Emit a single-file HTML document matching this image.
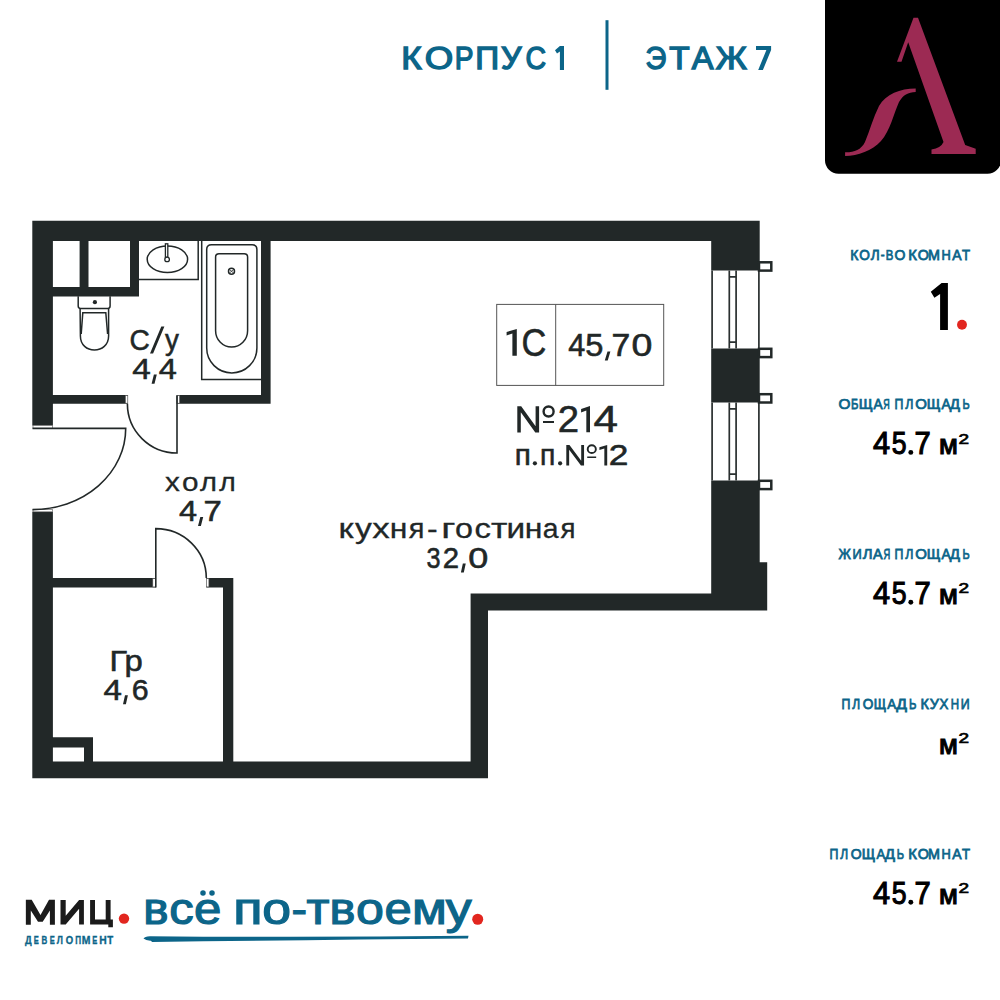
<!DOCTYPE html>
<html><head><meta charset="utf-8">
<style>
html,body{margin:0;padding:0;background:#fff;width:1000px;height:1000px;overflow:hidden}
svg{display:block}
text{font-family:"Liberation Sans",sans-serif}
.t{fill:#0c6589;font-weight:bold}
.b{fill:#111;font-weight:bold}
.l{fill:#1c2121}
</style></head><body>
<svg width="1000" height="1000" viewBox="0 0 1000 1000">
<defs><clipPath id="cvse"><rect x="130" y="870" width="350" height="64.8"/></clipPath></defs>
<!-- header -->
<rect x="605.5" y="20.2" width="3" height="69.6" fill="#0c6589"/>
<path fill="#0c6589" d="M559.9,69.9 V51.6 L557,53.6 L555,50.2 L559.9,46.1 H564 V69.9 Z M756,46.1 H771.1 V49.9 L762.9,69.9 H758.2 L766.4,49.9 H756 Z"/>

<!-- logo box -->
<path d="M825,0 H1001 V160.2 A13.5,13.5 0 0 1 987.5,173.7 H838.5 A13.5,13.5 0 0 1 825,160.2 Z" fill="#000"/>
<path fill="#9c2a53" d="M913.5,17.8 L918,17.8 L965.2,145 L975.7,148.7 L975.7,154 L931.5,154 L931.5,149.5 Q941,148 943.5,142 L908.2,42.2 L901.5,61.75 L897,61.75 Z"/>
<path fill="#9c2a53" d="M915.7,88.5 C900,88.6 886,94 879,106 C873,118 870,130 865,142 C861,150 854,152.5 845.1,152.3 L845.1,156.1 C858,155.5 872,151 881,141 C890,131 894,113 899,102 C903,95 908,92 915.7,91.9 Z"/>

<!-- right info -->
<path fill="#000" d="M940.1,329.9 V293.9 L934.4,297.8 L930.8,291.8 L941.6,283 H947.9 V329.9 Z"/>
<circle cx="962" cy="324.8" r="4.95" fill="#e2261f"/>
<circle cx="910.8" cy="452.4" r="2.45" fill="#000"/><circle cx="910.8" cy="602.3" r="2.45" fill="#000"/><circle cx="910.8" cy="902.3" r="2.45" fill="#000"/>





<!-- bottom logo -->
<path fill="#1b1b1b" d="M25.85,899.7 H31.7 L40.5,915 L49,899.7 H54.9 V924.7 H49.9 V910.5 L42.7,921.8 H38 L30.8,910.5 V924.7 H25.85 Z M60.5,899.9 H65.7 V915.8 L79.1,899.9 H83.9 V924.6 H79.1 V908.7 L65.7,924.6 H60.5 Z M90.1,899.9 H95 V919.4 H105.7 V899.9 H110.6 V919.4 H112.9 V927.2 H108.3 V924.6 H90.1 Z"/>
<circle cx="124" cy="918.6" r="5.2" fill="#e2261f"/>
<circle cx="477.7" cy="919.25" r="5.5" fill="#e2261f"/>
<circle cx="203" cy="892.9" r="2.75" fill="#0c6589"/><circle cx="212" cy="892.9" r="2.75" fill="#0c6589"/>
<path fill="#0c6589" d="M143.5,938.6 Q144.5,936.4 150,936.2 Q310,937.6 468.5,935.8 L468,938.6 Q300,940.2 152,942 L151,940.7 Q146,940.9 143.5,938.6 Z"/>

<!-- floor plan walls -->
<path fill="#222828" d="M32.3,220.8h727.4v20.1h-727.4zM32.3,220.8h20.6v204.7h-20.6zM32.3,511.8h20.6v266.5h-20.6zM711.2,220.8h48.5v49.8h-48.5zM711.2,348.5h48.5v54h-48.5zM711.2,480.5h48.5v129.9h-48.5zM759,562.2h8.2v48.2h-8.2zM470.6,593.5h296.6v17.1h-296.6zM470.6,593.5h17.4v184.8h-17.4zM32.3,761.5h455.7v16.8h-455.7zM79.6,240h8.9v50h-8.9zM130,240h9v56.6h-9zM52,287h87v9.6h-87zM261,240h9.6v163.8h-9.6zM52,395h75.8v8.8h-75.8zM176.6,395h94v8.8h-94zM52,578h103.8v9.5h-103.8zM206.3,578h27v9.5h-27zM223,578h10.3v184h-10.3zM52,737.3h41v10.3h-41zM84,737.3h9v25h-9z"/>

<!-- jamb markers -->
<g fill="#fff" stroke="#555" stroke-width="0.6">
  <rect x="125.4" y="395.6" width="2.4" height="7.6"/>
  <rect x="177.2" y="395.6" width="2.4" height="7.6"/>
  <rect x="152.8" y="578.6" width="2.6" height="8.3"/>
  <rect x="206.3" y="578.6" width="2.6" height="8.3"/>
  <rect x="33" y="425.5" width="19.3" height="2.9"/>
  <rect x="33" y="509.3" width="19.3" height="2.5"/>
</g>

<!-- windows -->
<g fill="none" stroke="#2a3030" stroke-width="1.7">
  <path d="M712.1,270.6 V348.5 M729.3,270.6 V348.5 M736.1,270.6 V348.5 M758.9,270.6 V348.5 M712.1,402.5 V480.5 M729.3,402.5 V480.5 M736.1,402.5 V480.5 M758.9,402.5 V480.5"/>
  <path d="M729.3,276.9 H736.1 M729.3,342.2 H736.1 M729.3,408.8 H736.1 M729.3,474.2 H736.1"/>
</g>
<g fill="#fff" stroke="#222828" stroke-width="2.5">
  <rect x="759" y="262.3" width="12.3" height="8.3"/>
  <rect x="759" y="348.8" width="12.3" height="8.3"/>
  <rect x="759" y="394.2" width="12.3" height="8.3"/>
  <rect x="759" y="480.8" width="12.3" height="8.3"/>
</g>

<!-- doors -->
<g fill="none" stroke="#222828" stroke-width="1.6">
  <path d="M32.5,428.4 L125.7,428.4 A93.2,81.2 0 0 1 32.5,509.6"/>
  <path d="M177,395.5 L177,453 A49.6,49.2 0 0 1 127.4,403.8"/>
  <path d="M155.8,587.5 L155.8,528.6 A50.5,49.4 0 0 1 206.3,578"/>
</g>

<!-- sanitary -->
<g fill="none" stroke="#222828" stroke-width="1.5">
  <path d="M139,279.6 H198.2 V240.5"/>
  <ellipse cx="167.4" cy="259.3" rx="20.2" ry="13.3"/>
  <path d="M201.7,240.5 V379.6 H261"/>
  <path d="M206.7,249.5 Q206.7,244.7 211.5,244.7 H252.1 Q256.9,244.7 256.9,249.5 V348.1 A25.1,24.8 0 0 1 206.7,348.1 Z"/>
  <path d="M215.6,257 Q215.6,253.7 218.9,253.7 H244.3 Q247.6,253.7 247.6,257 V330.7 A16,16.4 0 0 1 215.6,330.7 Z"/>
  <circle cx="231.5" cy="271.2" r="3"/>
  <path d="M78.2,296.3 V306 Q78.2,308.4 80.5,308.4 H107.8 Q110.1,308.4 110.1,306 V296.3"/>
  <path d="M80.1,308.4 L80.4,336 C80.4,345 87,350 94.4,350 C101.8,350 108.6,345 108.6,336 L108.6,308.4"/>
  <path d="M81.2,334 L82.8,312.8 H105.8 L107.6,334"/>
</g>
<circle cx="94.9" cy="302.2" r="2.1" fill="#222828"/>
<path d="M229.5,269.5 L233.5,273 M233.5,269.5 L229.5,273" stroke="#222828" stroke-width="0.8"/>
<rect x="165.4" y="243.8" width="2.4" height="13.5" fill="#fff" stroke="#222828" stroke-width="1.3"/>
<circle cx="167.1" cy="259.4" r="2.3" fill="#fff" stroke="#222828" stroke-width="1.3"/>

<!-- info box -->
<g fill="none" stroke="#555" stroke-width="1">
  <rect x="496.7" y="304.4" width="167" height="81"/>
  <line x1="555.7" y1="304.4" x2="555.7" y2="385.4"/>
</g>

<!-- labels -->

<path fill="#212727" d="M512.39,355.7 V333.49 L506.6,335.51 V332.04 L516.8,329 V355.7 Z M586.33,432.3 V410.5 L581.1,412.49 V409.09 L590,406.1 V432.3 Z M604.34,465.4 V448.43 L599.4,449.98 V447.33 L607.2,445 V465.4 Z"/>
<path fill="#212727" d="M153.9,374.6 H156.8 L154.5,383.7 H151.6 Z M200.3,517.0 H203.2 L200.9,526.1 H198 Z M125.0,695.2 H127.9 L125.9,704.3 H123 Z M462.85,563.5 H465.75 L463.8,572.6 H460.9 Z M607.5,351.4 H610.4 L607.7,360.5 H604.8 Z M161.3,326.4 H164.4 L153.1,353.6 H150 Z"/>
<circle cx="534.9" cy="463.3" r="2.1" fill="#212727"/><circle cx="560.1" cy="463.3" r="2.1" fill="#212727"/>
<path fill="#212727" d="M517.3,406.2 H521.2 L535.6,426.3 V406.2 H539.1 V432.4 H535.3 L520.8,412.3 V432.4 H517.3 Z M543.0,420.9 H554.0 V422.9 H543.0 Z"/><ellipse cx="548.6" cy="411.5" rx="5.0" ry="5.0" fill="none" stroke="#212727" stroke-width="2.4"/><path fill="#212727" d="M566.3,445.0 H569.47 L581.2,460.66 V445.0 H584.05 V465.41 H580.95 L569.15,449.75 V465.41 H566.3 Z M587.22,456.45 H596.17 V458.01 H587.22 Z"/><ellipse cx="591.78" cy="449.13" rx="4.07" ry="3.9" fill="none" stroke="#212727" stroke-width="1.91"/>
<!--TEXT-->
<g><text transform="translate(401.22,68.9) scale(1.0901,1)" font-size="32.1" font-weight="normal" fill="#0c6589" stroke="#0c6589" stroke-width="1.4">К</text></g>
<g><text transform="translate(424.65,68.9) scale(1.1398,1)" font-size="32.1" font-weight="normal" fill="#0c6589" stroke="#0c6589" stroke-width="1.4">О</text></g>
<g><text transform="translate(454.75,68.9) scale(0.8757,1)" font-size="32.1" font-weight="normal" fill="#0c6589" stroke="#0c6589" stroke-width="1.4">Р</text></g>
<g><text transform="translate(475.13,68.9) scale(1.0338,1)" font-size="32.1" font-weight="normal" fill="#0c6589" stroke="#0c6589" stroke-width="1.4">П</text></g>
<g><text transform="translate(500.95,68.9) scale(1.0023,1)" font-size="32.1" font-weight="normal" fill="#0c6589" stroke="#0c6589" stroke-width="1.4">У</text></g>
<g><text transform="translate(525.51,68.9) scale(0.8874,1)" font-size="32.1" font-weight="normal" fill="#0c6589" stroke="#0c6589" stroke-width="1.4">С</text></g>
<g><text transform="translate(645.62,68.9) scale(0.9,1)" font-size="32.1" font-weight="normal" fill="#0c6589" stroke="#0c6589" stroke-width="1.4">Э</text></g>
<g><text transform="translate(669.25,68.9) scale(1.0385,1)" font-size="32.1" font-weight="normal" fill="#0c6589" stroke="#0c6589" stroke-width="1.4">Т</text></g>
<g><text transform="translate(691.86,68.9) scale(1.0129,1)" font-size="32.1" font-weight="normal" fill="#0c6589" stroke="#0c6589" stroke-width="1.4">А</text></g>
<g><text transform="translate(715.64,68.9) scale(1.0512,1)" font-size="32.1" font-weight="normal" fill="#0c6589" stroke="#0c6589" stroke-width="1.4">Ж</text></g>
<g><text transform="translate(873.0,454.25) scale(0.9881,1)" font-size="31.1" font-weight="normal" fill="#000" stroke="#000" stroke-width="1.1">4</text></g>
<g><text transform="translate(873.0,604.15) scale(0.9881,1)" font-size="31.1" font-weight="normal" fill="#000" stroke="#000" stroke-width="1.1">4</text></g>
<g><text transform="translate(873.0,904.15) scale(0.9881,1)" font-size="31.1" font-weight="normal" fill="#000" stroke="#000" stroke-width="1.1">4</text></g>
<g><text transform="translate(891.67,454.25) scale(0.8562,1)" font-size="31.1" font-weight="normal" fill="#000" stroke="#000" stroke-width="1.1">5</text></g>
<g><text transform="translate(891.67,604.15) scale(0.8562,1)" font-size="31.1" font-weight="normal" fill="#000" stroke="#000" stroke-width="1.1">5</text></g>
<g><text transform="translate(891.67,904.15) scale(0.8562,1)" font-size="31.1" font-weight="normal" fill="#000" stroke="#000" stroke-width="1.1">5</text></g>
<g><text transform="translate(914.56,454.25) scale(0.9377,1)" font-size="31.1" font-weight="normal" fill="#000" stroke="#000" stroke-width="1.1">7</text></g>
<g><text transform="translate(914.56,604.15) scale(0.9377,1)" font-size="31.1" font-weight="normal" fill="#000" stroke="#000" stroke-width="1.1">7</text></g>
<g><text transform="translate(914.56,904.15) scale(0.9377,1)" font-size="31.1" font-weight="normal" fill="#000" stroke="#000" stroke-width="1.1">7</text></g>
<g><text transform="translate(939.07,454.3) scale(0.9879,1)" font-size="27.77" font-weight="normal" fill="#000" stroke="#000" stroke-width="1.2">м</text></g>
<g><text transform="translate(939.07,754.2) scale(0.9879,1)" font-size="27.77" font-weight="normal" fill="#000" stroke="#000" stroke-width="1.2">м</text></g>
<g><text transform="translate(939.07,604.2) scale(0.9879,1)" font-size="27.77" font-weight="normal" fill="#000" stroke="#000" stroke-width="1.2">м</text></g>
<g><text transform="translate(939.07,904.2) scale(0.9879,1)" font-size="27.77" font-weight="normal" fill="#000" stroke="#000" stroke-width="1.2">м</text></g>
<g><text transform="translate(958.6,443.55) scale(1.3034,1)" font-size="14.57" font-weight="normal" fill="#000" stroke="#000" stroke-width="0.7">2</text></g>
<g><text transform="translate(958.6,743.45) scale(1.3034,1)" font-size="14.57" font-weight="normal" fill="#000" stroke="#000" stroke-width="0.7">2</text></g>
<g><text transform="translate(958.6,593.45) scale(1.3034,1)" font-size="14.57" font-weight="normal" fill="#000" stroke="#000" stroke-width="0.7">2</text></g>
<g><text transform="translate(958.6,893.45) scale(1.3034,1)" font-size="14.57" font-weight="normal" fill="#000" stroke="#000" stroke-width="0.7">2</text></g>
<g clip-path="url(#cvse)"><text transform="translate(143.17,924.4) scale(1.0709,1)" font-size="44.5" font-weight="normal" fill="#0c6589" stroke="#0c6589" stroke-width="1.2">в</text></g>
<g clip-path="url(#cvse)"><text transform="translate(169.23,924.4) scale(1.0976,1)" font-size="44.5" font-weight="normal" fill="#0c6589" stroke="#0c6589" stroke-width="1.2">с</text></g>
<g clip-path="url(#cvse)"><text transform="translate(193.97,924.4) scale(1.1045,1)" font-size="44.5" font-weight="normal" fill="#0c6589" stroke="#0c6589" stroke-width="1.2">е</text></g>
<g clip-path="url(#cvse)"><text transform="translate(233.16,924.4) scale(1.2158,1)" font-size="44.5" font-weight="normal" fill="#0c6589" stroke="#0c6589" stroke-width="1.2">п</text></g>
<g clip-path="url(#cvse)"><text transform="translate(262.34,924.4) scale(1.164,1)" font-size="44.5" font-weight="normal" fill="#0c6589" stroke="#0c6589" stroke-width="1.2">о</text></g>
<g clip-path="url(#cvse)"><text transform="translate(291.62,924.4) scale(1.05,1)" font-size="44.5" font-weight="normal" fill="#0c6589" stroke="#0c6589" stroke-width="1.2">-</text></g>
<g clip-path="url(#cvse)"><text transform="translate(306.42,924.4) scale(1.125,1)" font-size="44.5" font-weight="normal" fill="#0c6589" stroke="#0c6589" stroke-width="1.2">т</text></g>
<g clip-path="url(#cvse)"><text transform="translate(329.51,924.4) scale(1.0962,1)" font-size="44.5" font-weight="normal" fill="#0c6589" stroke="#0c6589" stroke-width="1.2">в</text></g>
<g clip-path="url(#cvse)"><text transform="translate(355.89,924.4) scale(1.1281,1)" font-size="44.5" font-weight="normal" fill="#0c6589" stroke="#0c6589" stroke-width="1.2">о</text></g>
<g clip-path="url(#cvse)"><text transform="translate(384.42,924.4) scale(1.1,1)" font-size="44.5" font-weight="normal" fill="#0c6589" stroke="#0c6589" stroke-width="1.2">е</text></g>
<g clip-path="url(#cvse)"><text transform="translate(411.96,924.4) scale(1.1379,1)" font-size="44.5" font-weight="normal" fill="#0c6589" stroke="#0c6589" stroke-width="1.2">м</text></g>
<g clip-path="url(#cvse)"><text transform="translate(445.87,924.4) scale(1.1621,1)" font-size="44.5" font-weight="normal" fill="#0c6589" stroke="#0c6589" stroke-width="1.2">у</text></g>
<g><text transform="translate(338.41,537.95) scale(1.2524,1)" font-size="27.4" font-weight="normal" fill="#212727" stroke="#212727" stroke-width="0.3">к</text></g>
<g><text transform="translate(355.0,537.95) scale(1.2291,1)" font-size="27.4" font-weight="normal" fill="#212727" stroke="#212727" stroke-width="0.3">у</text></g>
<g><text transform="translate(372.18,537.95) scale(1.2755,1)" font-size="27.4" font-weight="normal" fill="#212727" stroke="#212727" stroke-width="0.3">х</text></g>
<g><text transform="translate(389.86,537.95) scale(1.166,1)" font-size="27.4" font-weight="normal" fill="#212727" stroke="#212727" stroke-width="0.3">н</text></g>
<g><text transform="translate(408.75,537.95) scale(1.0577,1)" font-size="27.4" font-weight="normal" fill="#212727" stroke="#212727" stroke-width="0.3">я</text></g>
<g><text transform="translate(426.94,537.95) scale(1.1643,1)" font-size="27.4" font-weight="normal" fill="#212727" stroke="#212727" stroke-width="0.3">-</text></g>
<g><text transform="translate(441.26,537.95) scale(1.42,1)" font-size="27.4" font-weight="normal" fill="#212727" stroke="#212727" stroke-width="0.3">г</text></g>
<g><text transform="translate(455.07,537.95) scale(1.1811,1)" font-size="27.4" font-weight="normal" fill="#212727" stroke="#212727" stroke-width="0.3">о</text></g>
<g><text transform="translate(474.4,537.95) scale(1.2,1)" font-size="27.4" font-weight="normal" fill="#212727" stroke="#212727" stroke-width="0.3">с</text></g>
<g><text transform="translate(490.92,537.95) scale(1.3042,1)" font-size="27.4" font-weight="normal" fill="#212727" stroke="#212727" stroke-width="0.3">т</text></g>
<g><text transform="translate(506.61,537.95) scale(1.2213,1)" font-size="27.4" font-weight="normal" fill="#212727" stroke="#212727" stroke-width="0.3">и</text></g>
<g><text transform="translate(524.86,537.95) scale(1.166,1)" font-size="27.4" font-weight="normal" fill="#212727" stroke="#212727" stroke-width="0.3">н</text></g>
<g><text transform="translate(542.72,537.95) scale(1.0345,1)" font-size="27.4" font-weight="normal" fill="#212727" stroke="#212727" stroke-width="0.3">а</text></g>
<g><text transform="translate(560.6,537.95) scale(1.0115,1)" font-size="27.4" font-weight="normal" fill="#212727" stroke="#212727" stroke-width="0.3">я</text></g>
<g><text transform="translate(25.1,943.73) scale(0.825,1)" font-size="11.35" font-weight="bold" fill="#0c6589" stroke="#0c6589" stroke-width="0.35">Д</text></g>
<g><text transform="translate(33.77,943.73) scale(0.6667,1)" font-size="11.35" font-weight="bold" fill="#0c6589" stroke="#0c6589" stroke-width="0.35">Е</text></g>
<g><text transform="translate(41.55,943.73) scale(0.7034,1)" font-size="11.35" font-weight="bold" fill="#0c6589" stroke="#0c6589" stroke-width="0.35">В</text></g>
<g><text transform="translate(49.67,943.73) scale(0.6667,1)" font-size="11.35" font-weight="bold" fill="#0c6589" stroke="#0c6589" stroke-width="0.35">Е</text></g>
<g><text transform="translate(56.79,943.73) scale(0.7742,1)" font-size="11.35" font-weight="bold" fill="#0c6589" stroke="#0c6589" stroke-width="0.35">Л</text></g>
<g><text transform="translate(65.69,943.73) scale(0.8364,1)" font-size="11.35" font-weight="bold" fill="#0c6589" stroke="#0c6589" stroke-width="0.35">О</text></g>
<g><text transform="translate(75.14,943.73) scale(0.7143,1)" font-size="11.35" font-weight="bold" fill="#0c6589" stroke="#0c6589" stroke-width="0.35">П</text></g>
<g><text transform="translate(81.64,943.73) scale(0.9176,1)" font-size="11.35" font-weight="bold" fill="#0c6589" stroke="#0c6589" stroke-width="0.35">М</text></g>
<g><text transform="translate(92.27,943.73) scale(0.6667,1)" font-size="11.35" font-weight="bold" fill="#0c6589" stroke="#0c6589" stroke-width="0.35">Е</text></g>
<g><text transform="translate(99.34,943.73) scale(0.9103,1)" font-size="11.35" font-weight="bold" fill="#0c6589" stroke="#0c6589" stroke-width="0.35">Н</text></g>
<g><text transform="translate(107.3,943.73) scale(0.8571,1)" font-size="11.35" font-weight="bold" fill="#0c6589" stroke="#0c6589" stroke-width="0.35">Т</text></g>
<g><text transform="translate(129.61,349.73) scale(0.9558,1)" font-size="29.4" font-weight="normal" fill="#212727" stroke="#212727" stroke-width="0.55">С</text></g>
<g><text transform="translate(165.04,349.73) scale(0.9443,1)" font-size="29.4" font-weight="normal" fill="#212727" stroke="#212727" stroke-width="0.55">у</text></g>
<g><text transform="translate(132.23,378.93) scale(1.1467,1)" font-size="29.0" font-weight="normal" fill="#212727" stroke="#212727" stroke-width="0.55">4</text></g>
<g><text transform="translate(158.64,378.93) scale(1.12,1)" font-size="29.0" font-weight="normal" fill="#212727" stroke="#212727" stroke-width="0.55">4</text></g>
<g><text transform="translate(164.92,491.05) scale(1.1294,1)" font-size="26.3" font-weight="normal" fill="#212727" stroke="#212727" stroke-width="0.3">х</text></g>
<g><text transform="translate(182.07,491.05) scale(1.1294,1)" font-size="26.3" font-weight="normal" fill="#212727" stroke="#212727" stroke-width="0.3">о</text></g>
<g><text transform="translate(200.0,491.05) scale(1.1055,1)" font-size="26.3" font-weight="normal" fill="#212727" stroke="#212727" stroke-width="0.3">л</text></g>
<g><text transform="translate(219.2,491.05) scale(1.0764,1)" font-size="26.3" font-weight="normal" fill="#212727" stroke="#212727" stroke-width="0.3">л</text></g>
<g><text transform="translate(179.04,521.33) scale(1.12,1)" font-size="29.0" font-weight="normal" fill="#212727" stroke="#212727" stroke-width="0.55">4</text></g>
<g><text transform="translate(203.38,521.33) scale(1.1345,1)" font-size="29.0" font-weight="normal" fill="#212727" stroke="#212727" stroke-width="0.55">7</text></g>
<g><text transform="translate(109.6,670.52) scale(1.1094,1)" font-size="29.3" font-weight="normal" fill="#212727" stroke="#212727" stroke-width="0.55">Г</text></g>
<g><text transform="translate(124.42,670.52) scale(1.12,1)" font-size="29.3" font-weight="normal" fill="#212727" stroke="#212727" stroke-width="0.55">р</text></g>
<g><text transform="translate(103.53,699.52) scale(1.14,1)" font-size="29.0" font-weight="normal" fill="#212727" stroke="#212727" stroke-width="0.55">4</text></g>
<g><text transform="translate(131.79,699.52) scale(1.0473,1)" font-size="29.0" font-weight="normal" fill="#212727" stroke="#212727" stroke-width="0.55">6</text></g>
<g><text transform="translate(426.45,567.83) scale(0.8702,1)" font-size="29.0" font-weight="normal" fill="#212727" stroke="#212727" stroke-width="0.55">3</text></g>
<g><text transform="translate(442.74,567.83) scale(1.0109,1)" font-size="29.0" font-weight="normal" fill="#212727" stroke="#212727" stroke-width="0.55">2</text></g>
<g><text transform="translate(468.17,567.83) scale(1.2414,1)" font-size="29.0" font-weight="normal" fill="#212727" stroke="#212727" stroke-width="0.55">0</text></g>
<g><text transform="translate(521.55,355.73) scale(0.888,1)" font-size="38.7" font-weight="normal" fill="#212727" stroke="#212727" stroke-width="0.55">С</text></g>
<g><text transform="translate(568.3,355.73) scale(1.0,1)" font-size="30.6" font-weight="normal" fill="#212727" stroke="#212727" stroke-width="0.55">4</text></g>
<g><text transform="translate(585.33,355.73) scale(1.0667,1)" font-size="30.6" font-weight="normal" fill="#212727" stroke="#212727" stroke-width="0.55">5</text></g>
<g><text transform="translate(611.42,355.73) scale(1.1034,1)" font-size="30.6" font-weight="normal" fill="#212727" stroke="#212727" stroke-width="0.55">7</text></g>
<g><text transform="translate(631.57,355.73) scale(1.2267,1)" font-size="30.6" font-weight="normal" fill="#212727" stroke="#212727" stroke-width="0.55">0</text></g>
<g><text transform="translate(557.63,432.12) scale(1.0435,1)" font-size="36.7" font-weight="normal" fill="#212727" stroke="#212727" stroke-width="0.55">2</text></g>
<g><text transform="translate(593.4,432.12) scale(1.2,1)" font-size="36.7" font-weight="normal" fill="#212727" stroke="#212727" stroke-width="0.55">4</text></g>
<g><text transform="translate(514.8,465.12) scale(1.0286,1)" font-size="28.9" font-weight="normal" fill="#212727" stroke="#212727" stroke-width="0.55">п</text></g>
<g><text transform="translate(540.09,465.12) scale(0.9796,1)" font-size="28.9" font-weight="normal" fill="#212727" stroke="#212727" stroke-width="0.55">п</text></g>
<g><text transform="translate(608.67,465.12) scale(1.2218,1)" font-size="28.9" font-weight="normal" fill="#212727" stroke="#212727" stroke-width="0.55">2</text></g>
<g><text transform="translate(850.25,259.52) scale(1.0,1)" font-size="14.0" font-weight="normal" fill="#0c6589" stroke="#0c6589" stroke-width="0.75">К</text></g>
<g><text transform="translate(859.26,259.52) scale(0.9756,1)" font-size="14.0" font-weight="normal" fill="#0c6589" stroke="#0c6589" stroke-width="0.75">О</text></g>
<g><text transform="translate(870.74,259.52) scale(0.9714,1)" font-size="14.0" font-weight="normal" fill="#0c6589" stroke="#0c6589" stroke-width="0.75">Л</text></g>
<g><text transform="translate(880.79,259.52) scale(0.8235,1)" font-size="14.0" font-weight="normal" fill="#0c6589" stroke="#0c6589" stroke-width="0.75">-</text></g>
<g><text transform="translate(885.69,259.52) scale(0.8121,1)" font-size="14.0" font-weight="normal" fill="#0c6589" stroke="#0c6589" stroke-width="0.75">В</text></g>
<g><text transform="translate(894.5,259.52) scale(1.0,1)" font-size="14.0" font-weight="normal" fill="#0c6589" stroke="#0c6589" stroke-width="0.75">О</text></g>
<g><text transform="translate(908.21,259.52) scale(1.0581,1)" font-size="14.0" font-weight="normal" fill="#0c6589" stroke="#0c6589" stroke-width="0.75">К</text></g>
<g><text transform="translate(917.74,259.52) scale(1.0244,1)" font-size="14.0" font-weight="normal" fill="#0c6589" stroke="#0c6589" stroke-width="0.75">О</text></g>
<g><text transform="translate(928.03,259.52) scale(1.0244,1)" font-size="14.0" font-weight="normal" fill="#0c6589" stroke="#0c6589" stroke-width="0.75">М</text></g>
<g><text transform="translate(941.51,259.52) scale(0.9176,1)" font-size="14.0" font-weight="normal" fill="#0c6589" stroke="#0c6589" stroke-width="0.75">Н</text></g>
<g><text transform="translate(952.3,259.52) scale(0.9951,1)" font-size="14.0" font-weight="normal" fill="#0c6589" stroke="#0c6589" stroke-width="0.75">А</text></g>
<g><text transform="translate(962.0,259.52) scale(0.9412,1)" font-size="14.0" font-weight="normal" fill="#0c6589" stroke="#0c6589" stroke-width="0.75">Т</text></g>
<g><text transform="translate(838.48,409.38) scale(1.0976,1)" font-size="14.0" font-weight="normal" fill="#0c6589" stroke="#0c6589" stroke-width="0.75">О</text></g>
<g><text transform="translate(850.89,409.38) scale(0.8125,1)" font-size="14.0" font-weight="normal" fill="#0c6589" stroke="#0c6589" stroke-width="0.75">Б</text></g>
<g><text transform="translate(858.7,409.38) scale(1.0612,1)" font-size="14.0" font-weight="normal" fill="#0c6589" stroke="#0c6589" stroke-width="0.75">Щ</text></g>
<g><text transform="translate(873.49,409.38) scale(0.9756,1)" font-size="14.0" font-weight="normal" fill="#0c6589" stroke="#0c6589" stroke-width="0.75">А</text></g>
<g><text transform="translate(883.34,409.38) scale(0.6389,1)" font-size="14.0" font-weight="normal" fill="#0c6589" stroke="#0c6589" stroke-width="0.75">Я</text></g>
<g><text transform="translate(894.59,409.38) scale(0.8824,1)" font-size="14.0" font-weight="normal" fill="#0c6589" stroke="#0c6589" stroke-width="0.75">П</text></g>
<g><text transform="translate(905.22,409.38) scale(0.8857,1)" font-size="14.0" font-weight="normal" fill="#0c6589" stroke="#0c6589" stroke-width="0.75">Л</text></g>
<g><text transform="translate(915.23,409.38) scale(1.0732,1)" font-size="14.0" font-weight="normal" fill="#0c6589" stroke="#0c6589" stroke-width="0.75">О</text></g>
<g><text transform="translate(926.72,409.38) scale(1.0408,1)" font-size="14.0" font-weight="normal" fill="#0c6589" stroke="#0c6589" stroke-width="0.75">Щ</text></g>
<g><text transform="translate(941.49,409.38) scale(0.9756,1)" font-size="14.0" font-weight="normal" fill="#0c6589" stroke="#0c6589" stroke-width="0.75">А</text></g>
<g><text transform="translate(949.77,409.38) scale(1.0769,1)" font-size="14.0" font-weight="normal" fill="#0c6589" stroke="#0c6589" stroke-width="0.75">Д</text></g>
<g><text transform="translate(962.41,409.38) scale(0.7812,1)" font-size="14.0" font-weight="normal" fill="#0c6589" stroke="#0c6589" stroke-width="0.75">Ь</text></g>
<g><text transform="translate(838.54,559.33) scale(0.9556,1)" font-size="14.0" font-weight="normal" fill="#0c6589" stroke="#0c6589" stroke-width="0.75">Ж</text></g>
<g><text transform="translate(852.61,559.33) scale(0.9176,1)" font-size="14.0" font-weight="normal" fill="#0c6589" stroke="#0c6589" stroke-width="0.75">И</text></g>
<g><text transform="translate(862.87,559.33) scale(1.0629,1)" font-size="14.0" font-weight="normal" fill="#0c6589" stroke="#0c6589" stroke-width="0.75">Л</text></g>
<g><text transform="translate(873.01,559.33) scale(1.0244,1)" font-size="14.0" font-weight="normal" fill="#0c6589" stroke="#0c6589" stroke-width="0.75">А</text></g>
<g><text transform="translate(883.43,559.33) scale(0.6667,1)" font-size="14.0" font-weight="normal" fill="#0c6589" stroke="#0c6589" stroke-width="0.75">Я</text></g>
<g><text transform="translate(894.59,559.33) scale(0.8824,1)" font-size="14.0" font-weight="normal" fill="#0c6589" stroke="#0c6589" stroke-width="0.75">П</text></g>
<g><text transform="translate(905.22,559.33) scale(0.8857,1)" font-size="14.0" font-weight="normal" fill="#0c6589" stroke="#0c6589" stroke-width="0.75">Л</text></g>
<g><text transform="translate(915.23,559.33) scale(1.0732,1)" font-size="14.0" font-weight="normal" fill="#0c6589" stroke="#0c6589" stroke-width="0.75">О</text></g>
<g><text transform="translate(926.72,559.33) scale(1.0408,1)" font-size="14.0" font-weight="normal" fill="#0c6589" stroke="#0c6589" stroke-width="0.75">Щ</text></g>
<g><text transform="translate(941.49,559.33) scale(0.9756,1)" font-size="14.0" font-weight="normal" fill="#0c6589" stroke="#0c6589" stroke-width="0.75">А</text></g>
<g><text transform="translate(949.77,559.33) scale(1.0769,1)" font-size="14.0" font-weight="normal" fill="#0c6589" stroke="#0c6589" stroke-width="0.75">Д</text></g>
<g><text transform="translate(962.41,559.33) scale(0.7812,1)" font-size="14.0" font-weight="normal" fill="#0c6589" stroke="#0c6589" stroke-width="0.75">Ь</text></g>
<g><text transform="translate(841.59,709.38) scale(0.8824,1)" font-size="14.0" font-weight="normal" fill="#0c6589" stroke="#0c6589" stroke-width="0.75">П</text></g>
<g><text transform="translate(852.21,709.38) scale(0.8571,1)" font-size="14.0" font-weight="normal" fill="#0c6589" stroke="#0c6589" stroke-width="0.75">Л</text></g>
<g><text transform="translate(862.76,709.38) scale(0.9756,1)" font-size="14.0" font-weight="normal" fill="#0c6589" stroke="#0c6589" stroke-width="0.75">О</text></g>
<g><text transform="translate(873.8,709.38) scale(0.9388,1)" font-size="14.0" font-weight="normal" fill="#0c6589" stroke="#0c6589" stroke-width="0.75">Щ</text></g>
<g><text transform="translate(887.23,709.38) scale(0.9512,1)" font-size="14.0" font-weight="normal" fill="#0c6589" stroke="#0c6589" stroke-width="0.75">А</text></g>
<g><text transform="translate(896.28,709.38) scale(1.1282,1)" font-size="14.0" font-weight="normal" fill="#0c6589" stroke="#0c6589" stroke-width="0.75">Д</text></g>
<g><text transform="translate(908.89,709.38) scale(0.8125,1)" font-size="14.0" font-weight="normal" fill="#0c6589" stroke="#0c6589" stroke-width="0.75">Ь</text></g>
<g><text transform="translate(920.48,709.38) scale(1.0258,1)" font-size="14.0" font-weight="normal" fill="#0c6589" stroke="#0c6589" stroke-width="0.75">К</text></g>
<g><text transform="translate(929.76,709.38) scale(1.0256,1)" font-size="14.0" font-weight="normal" fill="#0c6589" stroke="#0c6589" stroke-width="0.75">У</text></g>
<g><text transform="translate(939.49,709.38) scale(0.9487,1)" font-size="14.0" font-weight="normal" fill="#0c6589" stroke="#0c6589" stroke-width="0.75">Х</text></g>
<g><text transform="translate(950.63,709.38) scale(0.8235,1)" font-size="14.0" font-weight="normal" fill="#0c6589" stroke="#0c6589" stroke-width="0.75">Н</text></g>
<g><text transform="translate(960.84,709.38) scale(0.8824,1)" font-size="14.0" font-weight="normal" fill="#0c6589" stroke="#0c6589" stroke-width="0.75">И</text></g>
<g><text transform="translate(829.59,859.33) scale(0.8824,1)" font-size="14.0" font-weight="normal" fill="#0c6589" stroke="#0c6589" stroke-width="0.75">П</text></g>
<g><text transform="translate(840.21,859.33) scale(0.8571,1)" font-size="14.0" font-weight="normal" fill="#0c6589" stroke="#0c6589" stroke-width="0.75">Л</text></g>
<g><text transform="translate(850.75,859.33) scale(1.0,1)" font-size="14.0" font-weight="normal" fill="#0c6589" stroke="#0c6589" stroke-width="0.75">О</text></g>
<g><text transform="translate(861.73,859.33) scale(1.0204,1)" font-size="14.0" font-weight="normal" fill="#0c6589" stroke="#0c6589" stroke-width="0.75">Щ</text></g>
<g><text transform="translate(876.46,859.33) scale(0.9268,1)" font-size="14.0" font-weight="normal" fill="#0c6589" stroke="#0c6589" stroke-width="0.75">А</text></g>
<g><text transform="translate(884.77,859.33) scale(1.0769,1)" font-size="14.0" font-weight="normal" fill="#0c6589" stroke="#0c6589" stroke-width="0.75">Д</text></g>
<g><text transform="translate(896.65,859.33) scale(0.7938,1)" font-size="14.0" font-weight="normal" fill="#0c6589" stroke="#0c6589" stroke-width="0.75">Ь</text></g>
<g><text transform="translate(908.21,859.33) scale(1.0581,1)" font-size="14.0" font-weight="normal" fill="#0c6589" stroke="#0c6589" stroke-width="0.75">К</text></g>
<g><text transform="translate(917.74,859.33) scale(1.0244,1)" font-size="14.0" font-weight="normal" fill="#0c6589" stroke="#0c6589" stroke-width="0.75">О</text></g>
<g><text transform="translate(928.03,859.33) scale(1.0244,1)" font-size="14.0" font-weight="normal" fill="#0c6589" stroke="#0c6589" stroke-width="0.75">М</text></g>
<g><text transform="translate(941.51,859.33) scale(0.9176,1)" font-size="14.0" font-weight="normal" fill="#0c6589" stroke="#0c6589" stroke-width="0.75">Н</text></g>
<g><text transform="translate(952.3,859.33) scale(0.9951,1)" font-size="14.0" font-weight="normal" fill="#0c6589" stroke="#0c6589" stroke-width="0.75">А</text></g>
<g><text transform="translate(962.0,859.33) scale(0.9412,1)" font-size="14.0" font-weight="normal" fill="#0c6589" stroke="#0c6589" stroke-width="0.75">Т</text></g>
<!--/TEXT-->
</svg>
</body></html>
